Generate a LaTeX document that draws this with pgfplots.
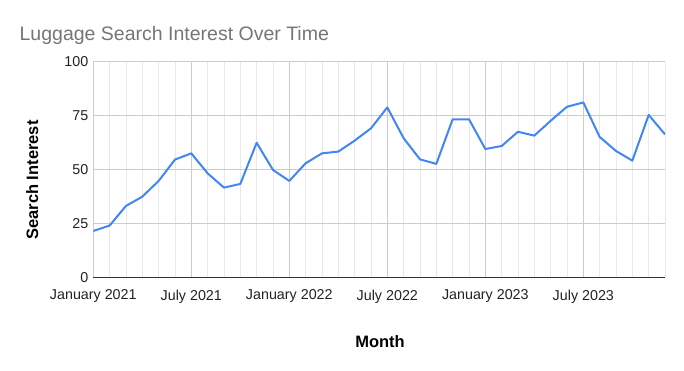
\documentclass[border=0pt]{standalone}
\usepackage{fontspec}
\setmainfont{Liberation Sans}
\usepackage{pgfplots}
\pgfplotsset{compat=1.18}
\definecolor{gline}{HTML}{4285F4}
\definecolor{titlegray}{HTML}{757575}
\definecolor{majgrid}{HTML}{CCCCCC}
\definecolor{mingrid}{HTML}{E8E8E8}
\definecolor{zeroline}{HTML}{333333}
\definecolor{ticktext}{HTML}{222222}
\begin{document}
\begin{tikzpicture}[x=1pt,y=1pt]
\path[use as bounding box] (0,0) rectangle (684,371);
\begin{axis}[
  at={(93.3pt,93.7pt)}, anchor=south west,
  scale only axis, width=571.7pt, height=215.6pt,
  xmin=0, xmax=35, ymin=0, ymax=100,
  xtick={0,6,12,18,24,30},
  xticklabels={January 2021, July 2021, January 2022, July 2022, January 2023, July 2023},
  minor xtick={0,...,35},
  ytick={0,25,50,75,100},
  grid=both,
  major grid style={color=majgrid, line width=0.9pt},
  minor grid style={color=mingrid, line width=0.9pt},
  axis line style={draw=none},
  major tick length=0pt, minor tick length=0pt,
  extra y ticks={0}, extra y tick labels={},
  extra y tick style={grid=major, major grid style={color=zeroline, line width=1pt}},
  /pgf/number format/assume math mode=true,
  tick label style={font=\fontsize{14.3}{14.3}\selectfont, text=ticktext},
  yticklabel style={xshift=-1.5pt},
  xticklabel style={yshift=-9pt},
  title={Luggage Search Interest Over Time},
  title style={at={(axis description cs:-0.135,1.092)}, anchor=west, font=\fontsize{19.5}{19.5}\selectfont, text=titlegray},
  xlabel={Month},
  xlabel style={at={(axis description cs:0.5015,-0.300)}, anchor=center, font=\bfseries\fontsize{16.5}{16.5}\selectfont},
  ylabel={Search Interest},
  ylabel style={at={(axis description cs:-0.107,0.451)}, anchor=center, rotate=0, font=\bfseries\fontsize{16.5}{16.5}\selectfont},
]
\addplot[color=gline, line width=2pt, line join=round, no marks] coordinates {
(0,21.5) (1,24.0) (2,33.1) (3,37.4) (4,44.7) (5,54.6) (6,57.5) (7,48.2)
(8,41.6) (9,43.3) (10,62.4) (11,49.8) (12,44.7) (13,52.9) (14,57.5) (15,58.3)
(16,63.4) (17,69.1) (18,78.8) (19,64.5) (20,54.7) (21,52.6) (22,73.3) (23,73.3)
(24,59.5) (25,60.9) (26,67.5) (27,65.7) (28,72.6) (29,79.1) (30,81.1) (31,65.1)
(32,58.6) (33,54.1) (34,75.3) (35,66.3)
};
\end{axis}
\end{tikzpicture}
\end{document}
